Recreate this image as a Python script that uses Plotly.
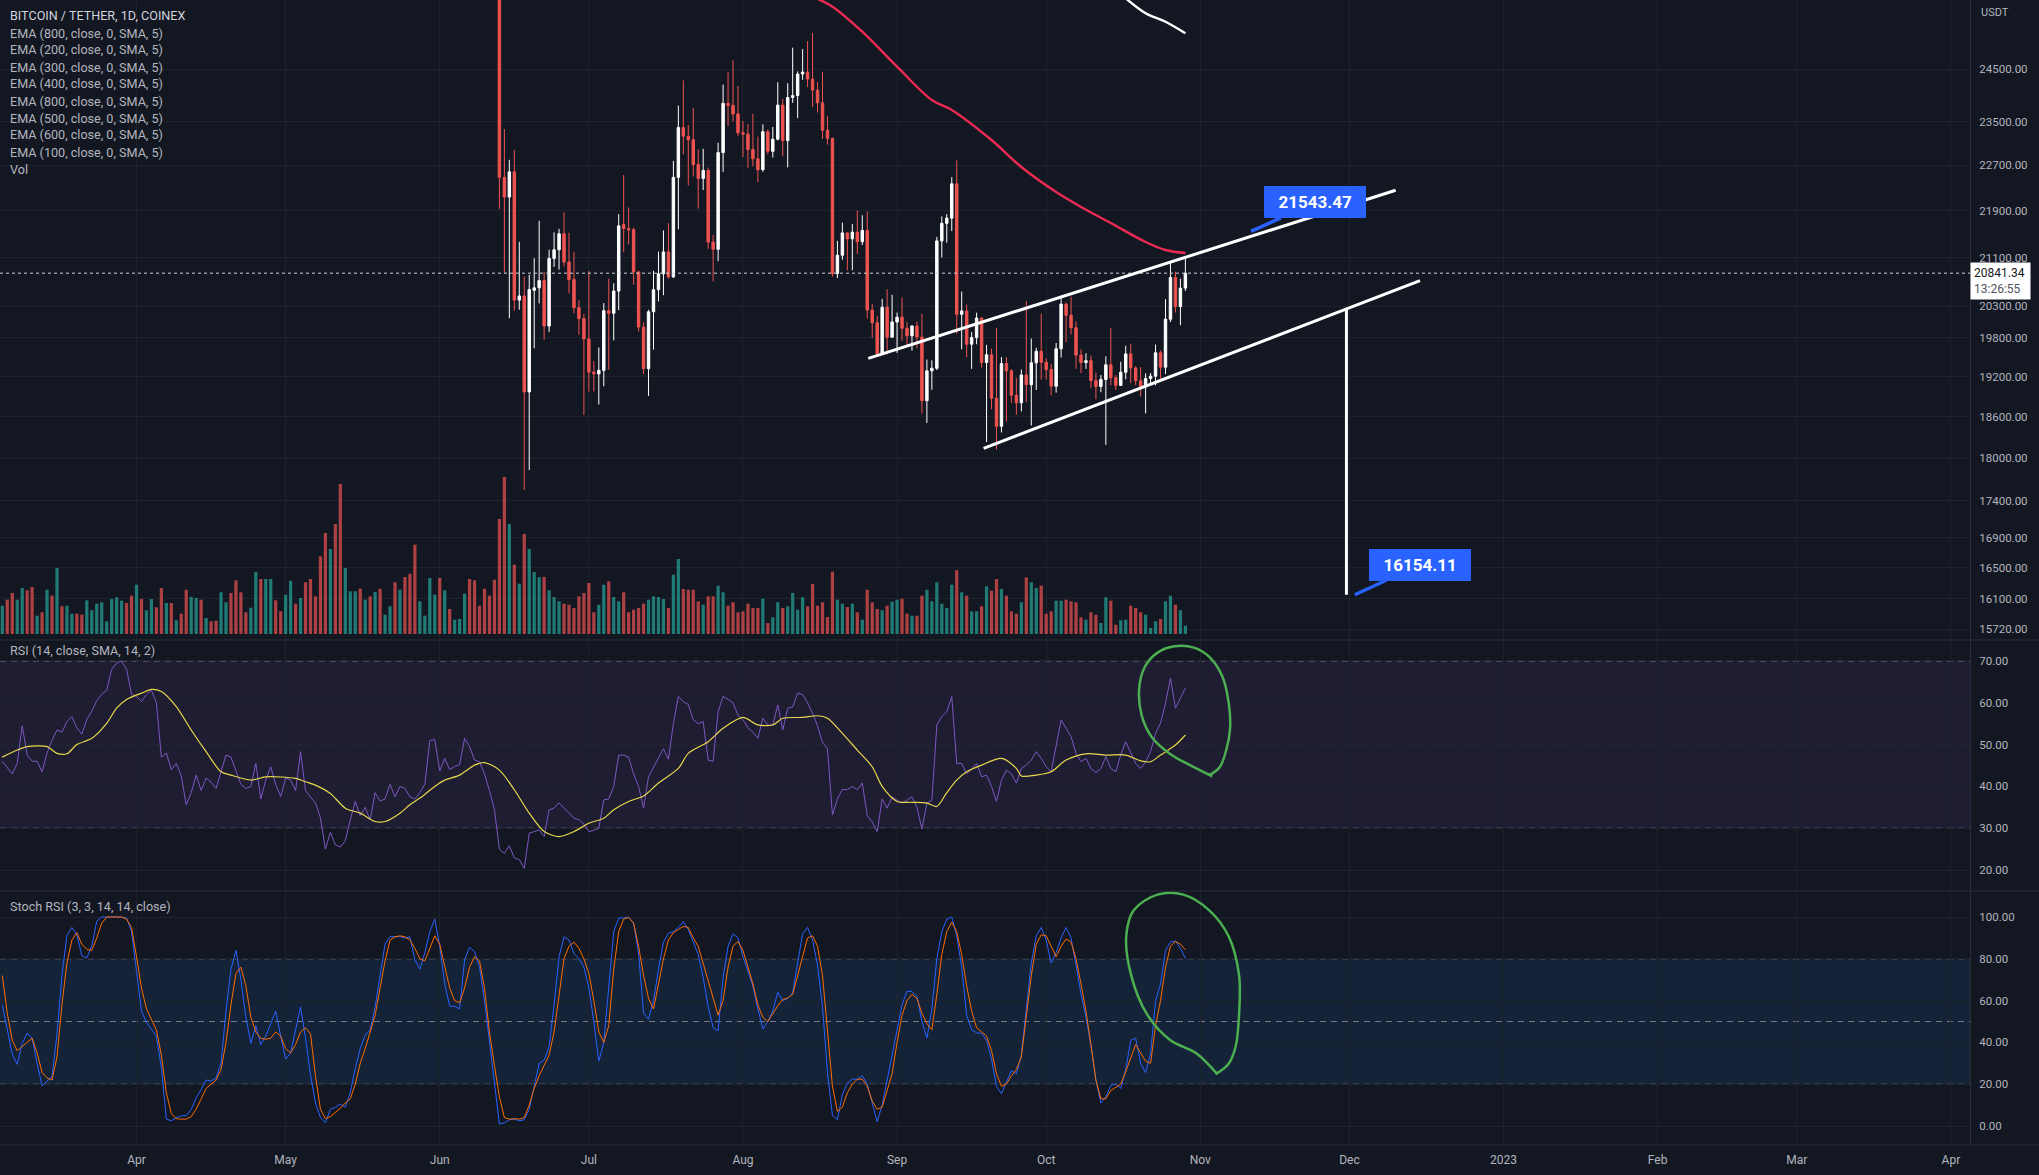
import numpy as np
import pandas as pd
import plotly.graph_objects as go

BG = "#131722"
GRID = "#1e222d"
TXT = "#b2b5be"
FONT = "Roboto"

# ---------------- data ----------------
base_date = "2022-03-05"          # first daily bar visible at left edge

rsi_vals = [
    46, 44.5, 43, 45.5, 54.5, 47.5, 46, 46, 43.5, 48,
    51, 53.5, 53, 55.5, 56.7, 54, 52.5, 56, 58, 60.5,
    62, 63, 68, 69.5, 70, 68, 62, 61.5, 60.3, 62,
    63, 60, 47, 48, 44, 45.5, 42.5, 35.6, 38.5, 42.7,
    39, 42, 41, 39.5, 43.5, 47.5, 47, 43.5, 40.5, 39.5,
    40, 45.5, 37, 41.5, 44.7, 40.5, 37.6, 42, 41.5, 39,
    48.3, 39, 37.5, 36, 32.5, 25, 29, 26, 25.5, 27,
    32, 36.4, 33, 35, 32, 38.5, 36.5, 37, 40.5, 37.5,
    40, 39.5, 37.5, 37, 38.5, 40.5, 51, 51.2, 43.7, 46.7,
    44, 44.8, 45.2, 51.5, 49.5, 46.3, 45.9, 43, 39, 34.5,
    25, 24, 25.8, 22.9, 22.5, 20.4, 28.8, 29.2, 29.6, 28,
    34.4, 34.8, 36.1, 34.8, 33.6, 32.4, 32, 31, 29.2, 29.5,
    30, 36.8, 37, 40, 47.5, 47.5, 47, 43, 40, 34.8,
    42.3, 44.5, 47, 49, 46.5, 55, 61.5, 60.3, 59.6, 56,
    55, 55.5, 46.3, 46, 57.9, 61.5, 60.8, 60, 57, 56,
    54, 53, 51.5, 56.3, 54.7, 54.7, 59.5, 53.5, 58.7, 59,
    62.3, 62, 60, 57.5, 54.5, 50.5, 49, 33.2, 37, 39.3,
    39.2, 40, 39.2, 40.8, 33, 31.5, 29.2, 37, 34.8, 37.5,
    36.7, 36, 36.7, 37.5, 35, 29.8, 36, 36.7, 54.7, 56.7,
    57.9, 61.5, 45.5, 45.5, 43, 44.3, 45.5, 42.3, 42.7, 40,
    36.4, 41.5, 43.9, 43, 40.8, 44.3, 45.1, 46.3, 48.3, 46.7,
    44.7, 43.5, 49.9, 55.9, 53.9, 51.9, 47.9, 45.9, 46.7, 44.3,
    43.3, 44.3, 47.1, 44.3, 43.5, 47.5, 50.7, 47.9, 45.5, 44.3,
    45.9, 48.3, 52.7, 55.1, 59.9, 65.9, 58.7, 61.1, 63.5,
]

rsi_ma_days = [0, 3, 5, 9, 11, 13, 15, 18, 21, 23, 25, 28, 30, 32, 35, 38, 41, 44, 46, 50,
               53, 59, 61, 63, 66, 69, 72, 75, 77, 80, 82, 84, 87, 89, 92, 95, 97, 100, 103, 106,
               109, 112, 115, 118, 121, 123, 126, 129, 132, 136, 138, 142, 145, 149, 152, 155, 157, 161, 164, 166,
               169, 172, 175, 177, 180, 183, 186, 188, 190, 192, 194, 197, 201, 204, 205, 208, 211, 214, 218, 222,
               226, 229, 231, 233, 236, 238]
rsi_ma_vals = [47.0, 48.7, 49.5, 49.5, 47.9, 47.8, 50.0, 51.5, 55.1, 58.7, 60.8, 62.3, 63.2, 62.7, 59.1, 53.5, 48.3, 43.5, 42.7, 41.5,
               42.3, 41.9, 41.1, 40.3, 38.3, 34.8, 33.6, 31.6, 31.6, 33.6, 35.6, 37.2, 40.0, 41.5, 42.7, 45.1, 45.7, 43.9, 39.2, 33.6,
               29.2, 28.0, 29.2, 31.2, 32.4, 34.4, 36.4, 37.7, 40.8, 44.3, 47.9, 50.7, 53.9, 56.5, 54.7, 54.7, 56.3, 56.5, 56.9, 56.3,
               52.7, 48.7, 44.7, 40.0, 36.4, 36.2, 36.0, 35.2, 38.5, 41.5, 43.5, 45.1, 46.7, 44.3, 42.5, 42.7, 43.5, 46.3, 47.8, 47.5,
               47.5, 46.1, 45.9, 47.5, 49.9, 52.3]

stoch_k = [
    58, 46, 34.5, 29.5, 39.5, 44.5, 42, 30, 19.2, 21.5,
    23.5, 44, 72, 91, 95, 91.5, 81.5, 80.5, 86, 98,
    100, 100, 100, 100, 100, 99.5, 93, 74, 55, 49.5,
    46, 43, 28, 3.3, 2.5, 4, 4.9, 4.9, 8, 13.5,
    17.5, 22, 21.5, 23, 30, 55, 75, 84, 70, 52,
    39.5, 48, 39, 43, 49, 55, 43, 32, 35, 46,
    57, 42, 24.5, 11, 4, 1.5, 8, 9, 10.5, 9,
    16, 27.5, 37, 43.5, 46, 57, 72, 87, 90.6, 90.6,
    90.6, 90, 90.5, 79.5, 75, 83, 93, 99, 86, 68,
    57.3, 57.3, 56, 79.5, 85.5, 83.5, 76, 60, 41, 21,
    1, 1.5, 3, 3.3, 2.5, 3, 8, 19, 30, 31.5,
    38, 58, 81, 90.5, 89, 82.5, 80, 76, 66, 50,
    31, 40, 68, 93, 99.5, 99.5, 100, 97, 82.7, 54,
    51, 60, 75, 88, 92.2, 93, 95, 97.8, 94, 88,
    82, 71, 57, 47, 45.5, 71, 86, 92, 90, 81,
    74, 67, 56, 46.5, 50, 55, 64, 60, 61, 63.7,
    78, 92, 95, 89, 77, 57, 25.6, 5, 3, 15,
    20.5, 22.4, 22.4, 24, 20, 11, 2, 10, 22, 34,
    46, 58, 64.4, 64.4, 62, 50, 42, 56, 80, 93,
    99, 100, 91, 76, 53, 46, 44.6, 44.3, 41, 32,
    19, 15.5, 21, 26.5, 25, 34, 56, 78, 91, 95,
    89, 78, 83, 90, 95, 90, 77, 63, 52, 38.5,
    22, 11, 14, 19.5, 20, 18, 27, 41, 42, 30,
    25.6, 35, 60, 68, 84, 88, 88.5, 85, 80.3,
]

stoch_d = [
    72, 54, 41, 36, 38, 40, 42, 35, 25.6, 23,
    22, 33, 58, 78, 89, 92.5, 87, 84.5, 84, 90,
    97, 100, 100, 100, 100, 99, 95, 81, 66, 56,
    51, 46, 34, 16, 6, 3.5, 3.3, 3.3, 4.5, 8,
    13, 18, 20, 22, 27, 40, 58, 73, 76, 67,
    52, 45, 42, 41.5, 42, 45, 43, 37, 35, 39,
    45, 47, 44, 24, 8, 3.5, 4.5, 6.5, 8.5, 11,
    13, 20, 30, 37, 45, 53, 66, 79, 89, 90.5,
    91, 90.5, 89, 85, 80, 79, 85, 91, 87, 77,
    66, 60, 59, 66, 76, 81, 79, 66, 45, 29,
    14, 4, 3.3, 3.5, 3.3, 4, 10, 18, 24, 29,
    34, 45, 63, 80, 86, 88, 85, 80, 73, 60,
    45, 40, 48, 75, 93, 99, 99.8, 97, 86, 72,
    61, 56, 68, 80, 89, 92.5, 94, 95.5, 95, 90,
    86, 78, 69, 62, 53, 60, 76, 86, 88.3, 84,
    76, 68, 58, 52, 50, 54, 57.5, 60.5, 61.3, 63,
    72, 82, 90, 91, 86, 72, 44.6, 19, 7, 9,
    16, 20, 22.4, 22.4, 19, 12, 8, 9, 17, 25,
    40, 53, 60, 63, 61, 54, 49, 46, 63, 82,
    93, 97.5, 93, 82, 67, 55, 47, 45, 43, 36,
    25, 19, 20, 24, 27, 33, 52, 72, 87, 91.5,
    91, 86, 81, 86, 89.5, 88, 80, 68, 55, 39,
    22, 13, 13, 17, 18.5, 20, 26, 33, 39, 35,
    31, 30, 48, 60, 76, 86, 88.3, 87, 84.3,
]

volume = [
    28.3, 34.3, 41, 34.3, 46, 43.7, 47, 18.3, 21.7, 44.3,
    38.3, 66, 27.7, 28.3, 20.3, 20.3, 19.3, 33.7, 23.7, 30.3,
    31.7, 12.7, 35, 36.7, 33.3, 31, 38.3, 49.3, 35, 23.7,
    35, 26.7, 46, 31, 31, 13.7, 20.3, 44.3, 37, 36,
    34.3, 16, 12.7, 13.3, 41.7, 31.7, 41, 53.7, 41.7, 21.7,
    26.3, 62, 55, 55, 55, 33.7, 22.7, 39.3, 53.3, 30.3,
    36, 51.7, 55, 37.7, 77.7, 101, 85, 110, 150, 66,
    42.7, 42.7, 45.3, 34.3, 37.7, 42, 45.3, 19.3, 27.7, 51.7,
    44.3, 57, 60.3, 89.3, 32.7, 18.3, 56, 39.3, 56, 43.7,
    25, 14.3, 15, 40.3, 55, 53.7, 28.3, 45.3, 38.3, 54.3,
    115, 157, 110, 69.3, 50.3, 100, 85, 62, 56.7, 57,
    43.7, 37, 32.7, 30.3, 29.3, 26, 37.7, 41, 51, 21.7,
    29.3, 49.3, 52.7, 37, 32.7, 41.7, 21.7, 24.3, 26, 30.3,
    34.3, 37.7, 37, 35, 26, 59.3, 75, 45, 44.3, 44.3,
    32.7, 29.3, 37.7, 37.7, 48.3, 41.7, 28.3, 31.7, 21.7, 22.7,
    30.3, 26, 26, 35.3, 11, 16.7, 31.7, 26, 27.7, 41,
    24.3, 36.7, 27.7, 50, 28.3, 31.7, 17, 62.3, 34.3, 30.3,
    27, 30.3, 21.7, 14.3, 44.3, 31.7, 25, 23.7, 28.3, 32.3,
    34.3, 35.3, 20.3, 18.3, 18.3, 38.3, 44.3, 32.7, 51.7, 30.3,
    26, 49.3, 63.7, 41.7, 38.3, 22.7, 22.7, 27.7, 47.7, 43.3,
    55, 45, 38.3, 22.7, 20.3, 31.7, 56.7, 51.7, 46, 48.3,
    20.3, 22.7, 33.3, 33.3, 34.3, 32.7, 31.7, 16.7, 14.3, 21.7,
    19.3, 11, 36.7, 33.3, 9.3, 13.7, 14.3, 28.3, 26, 21.7,
    19.3, 6, 12.7, 15, 32.7, 38.3, 29.3, 23.7, 8.3,
]

# direction of volume bars before the first visible candle (1 = up / teal)
vol_up_early = [
    1, 0, 0, 1, 1, 0, 0, 1, 0, 1,
    0, 1, 0, 1, 1, 0, 0, 1, 1, 1,
    1, 1, 1, 1, 1, 0, 0, 1, 0, 1,
    1, 0, 0, 1, 0, 1, 0, 0, 1, 1,
    0, 1, 0, 0, 1, 1, 0, 0, 0, 0,
    1, 1, 0, 1, 1, 0, 0, 1, 1, 0,
    1, 0, 0, 0, 0, 0, 1, 0, 0, 1,
    1, 1, 0, 1, 0, 1, 0, 1, 1, 0,
    1, 0, 0, 0, 1, 1, 1, 1, 0, 1,
    0, 1, 1, 1, 0, 0, 0, 0, 0, 0,
]

candle_start = "2022-06-13"
ohlc = [
    (26580, 26900, 21930, 22487), (22486, 23363, 20846, 22136), (22136, 22800, 20111, 22583),
    (22583, 22980, 20232, 20401), (20401, 21365, 20246, 20468), (20468, 20785, 17550, 18970),
    (18970, 20815, 17830, 20574), (20560, 21090, 19637, 20600), (20600, 21723, 20348, 20719),
    (20719, 20866, 19770, 19987), (19987, 21233, 19890, 21085), (21085, 21525, 20946, 21231),
    (21231, 21588, 20900, 21502), (21502, 21868, 20950, 21027), (21027, 21520, 20510, 20735),
    (20735, 21200, 20190, 20280), (20280, 20400, 19850, 20104), (20104, 20179, 18626, 19784),
    (19784, 20876, 18975, 19269), (19269, 19438, 18977, 19242), (19242, 19650, 18781, 19297),
    (19297, 20354, 19055, 20231), (20231, 20750, 19304, 20190), (20190, 20675, 19761, 20548),
    (20548, 21838, 20240, 21637), (21660, 22527, 21189, 21590), (21590, 21954, 21320, 21570),
    (21570, 21608, 20650, 20861), (20861, 20884, 19900, 19970), (19970, 20046, 19240, 19323),
    (19323, 20245, 18910, 20213), (20213, 20880, 19617, 20570), (20570, 21200, 20380, 20830),
    (20830, 21560, 20480, 21195), (21195, 21683, 20750, 20780), (20780, 22780, 20760, 22485),
    (22485, 23800, 21580, 23389), (23389, 24280, 22900, 23231), (23231, 23440, 22340, 23164),
    (23164, 23756, 22500, 22714), (22714, 22990, 21934, 22465), (22465, 23000, 22260, 22609),
    (22609, 22660, 21250, 21361), (21361, 21480, 20706, 21239), (21239, 23109, 21040, 22930),
    (22930, 24199, 22582, 23843), (23843, 24442, 23414, 23804), (23804, 24668, 23500, 23643),
    (23643, 24173, 23227, 23293), (23293, 23509, 22850, 23268), (23268, 23455, 22654, 22987),
    (22987, 23647, 22681, 22818), (22818, 23223, 22400, 22622), (22622, 23450, 22586, 23312),
    (23312, 23354, 22901, 22954), (22954, 23400, 22841, 23175), (23175, 24245, 23154, 23810),
    (23810, 23925, 22865, 23149), (23149, 24226, 22664, 23954), (23954, 24918, 23852, 23990),
    (23990, 24454, 23565, 24403), (24403, 24890, 24291, 24441), (24441, 25047, 24150, 24305),
    (24305, 25211, 23773, 24094), (24094, 24247, 23671, 23854), (23854, 24446, 23180, 23342),
    (23342, 23600, 23077, 23191), (23191, 23200, 20783, 20834), (20834, 21382, 20761, 21140),
    (21140, 21692, 21064, 21517), (21517, 21522, 20890, 21416), (21416, 21668, 20890, 21529),
    (21529, 21900, 21163, 21368), (21368, 21819, 21310, 21560), (21560, 21886, 20107, 20241),
    (20241, 20340, 19800, 20037), (20037, 20150, 19530, 19555), (19555, 20420, 19550, 20285),
    (20285, 20577, 19540, 19811), (19811, 20488, 19800, 20050), (20050, 20200, 19565, 20127),
    (20127, 20445, 19753, 19952), (19952, 20052, 19655, 19832), (19832, 20000, 19600, 19986),
    (19986, 20059, 19635, 19812), (19812, 20180, 18650, 18838), (18838, 19463, 18510, 19290),
    (19290, 19450, 19000, 19329), (19329, 21450, 19300, 21381), (21381, 21800, 21100, 21680),
    (21680, 21840, 21350, 21770), (21770, 22488, 21550, 22370), (22370, 22790, 19860, 20173),
    (20173, 20540, 19620, 20227), (20227, 20330, 19500, 19701), (19701, 19890, 19320, 19804),
    (19804, 20200, 19700, 20114), (20114, 20118, 19336, 19416), (19416, 19690, 18232, 19537),
    (19537, 19634, 18710, 18875), (18875, 19956, 18125, 18461), (18461, 19500, 18370, 19401),
    (19401, 19500, 18530, 19289), (19289, 19316, 18805, 18920), (18920, 19180, 18630, 18807),
    (18807, 19310, 18680, 19227), (19227, 20385, 18817, 19079), (19079, 19790, 18471, 19412),
    (19412, 19645, 19000, 19591), (19591, 20185, 19155, 19422), (19422, 19484, 19160, 19310),
    (19310, 19395, 18920, 19056), (19056, 19720, 18959, 19629), (19629, 20475, 19493, 20337),
    (20337, 20365, 19730, 20158), (20158, 20456, 19854, 19960), (19960, 20061, 19320, 19531),
    (19531, 19620, 19255, 19417), (19417, 19560, 19320, 19446), (19446, 19525, 19026, 19141),
    (19141, 19263, 18860, 19051), (19051, 19225, 18965, 19157), (19157, 19514, 18190, 19382),
    (19382, 19951, 19070, 19185), (19185, 19227, 19000, 19067), (19067, 19428, 19064, 19268),
    (19268, 19676, 19160, 19550), (19550, 19706, 19100, 19334), (19334, 19360, 19070, 19139),
    (19139, 19346, 18900, 19053), (19053, 19250, 18650, 19172), (19172, 19257, 19100, 19208),
    (19208, 19695, 19068, 19567), (19567, 19601, 19157, 19345), (19345, 20415, 19240, 20095),
    (20095, 21020, 20050, 20771), (20771, 20865, 20200, 20296), (20296, 20750, 20000, 20596),
    (20596, 21085, 20550, 20841.34),
]
opens = [r[0] for r in ohlc]
highs = [r[1] for r in ohlc]
lows = [r[2] for r in ohlc]
closes = [r[3] for r in ohlc]
last_price = 20841.34

# moving-average curves (day offset from base_date, price)
ema_red_days = [164, 167, 173, 180, 187, 191, 199, 205, 212, 217, 223, 230, 234, 238]
ema_red_vals = [25900, 25740, 25235, 24545, 23905, 23719, 23160, 22670, 22224, 21963, 21686, 21362, 21227, 21176]
ema_white_days = [225, 230, 234, 238]
ema_white_vals = [26000, 25606, 25435, 25203]

# drawings (day offset, price)
upper_line_days = [174.2, 280.3]
upper_line_vals = [19480, 22256]
lower_line_days = [197.4, 285.2]
lower_line_vals = [18140, 20717]
target_line_days = [270.4, 270.4]
target_line_vals = [20270, 16154.11]
callouts = [(251.2, 21543.47), (272.1, 16154.11)]

rsi_circle_days = [243.4, 239.7, 235.0, 231.3, 229.2, 228.7, 229.8, 232.4, 235.8, 239.7, 242.8, 245.4, 246.7, 247.0, 246.2, 244.9, 242.8]
rsi_circle_vals = [42.4, 44.6, 47.7, 51.7, 57.0, 63.3, 68.5, 72.0, 73.5, 73.2, 71.0, 66.4, 60.1, 53.9, 48.6, 44.6, 42.7]
stoch_circle_days = [244.4, 240.2, 235.0, 230.3, 227.1, 226.1, 227.6, 232.4, 237.6, 242.8, 246.7, 248.8, 248.8, 248.1, 246.7, 244.1]
stoch_circle_vals = [24.8, 34.8, 41.0, 53.4, 72.1, 90.8, 103.2, 110.7, 110.7, 103.2, 90.8, 72.1, 53.4, 37.9, 29.8, 24.8]

price_ticks = [15720, 16100, 16500, 16900, 17400, 18000, 18600, 19200, 19800, 20300, 21100, 21900, 22700, 23500, 24500]
rsi_ticks = [20, 30, 40, 50, 60, 70]
stoch_ticks = [0, 20, 40, 60, 80, 100]
month_ticks = ["2022-04-01", "2022-05-01", "2022-06-01", "2022-07-01", "2022-08-01", "2022-09-01", "2022-10-01",
               "2022-11-01", "2022-12-01", "2023-01-01", "2023-02-01", "2023-03-01", "2023-04-01"]
month_labels = ["Apr", "May", "Jun", "Jul", "Aug", "Sep", "Oct", "Nov", "Dec", "2023", "Feb", "Mar", "Apr"]

legend_rows = ["BITCOIN / TETHER, 1D, COINEX", "EMA (800, close, 0, SMA, 5)", "EMA (200, close, 0, SMA, 5)",
               "EMA (300, close, 0, SMA, 5)", "EMA (400, close, 0, SMA, 5)", "EMA (800, close, 0, SMA, 5)",
               "EMA (500, close, 0, SMA, 5)", "EMA (600, close, 0, SMA, 5)", "EMA (100, close, 0, SMA, 5)", "Vol"]

# ---------------- helpers ----------------
base = pd.Timestamp(base_date)


def day(d):
    return base + pd.to_timedelta(d, unit="D")


def days_to_dates(ds):
    return [day(d) for d in ds]


dates = pd.date_range(base_date, periods=len(rsi_vals), freq="D")
cdates = pd.date_range(candle_start, periods=len(ohlc), freq="D")
offset = (pd.Timestamp(candle_start) - base).days

vol_colors = []
for i in range(len(volume)):
    if i < offset:
        up = vol_up_early[i] == 1
    else:
        up = closes[i - offset] >= opens[i - offset]
    vol_colors.append("rgba(38,166,154,0.7)" if up else "rgba(239,83,80,0.7)")

# layout geometry
PLOT_H = 1145.0
W_PLOT = 1970.0
dom_price = [1 - 640 / PLOT_H, 1.0]
dom_rsi = [1 - 891 / PLOT_H, 1 - 640 / PLOT_H]
dom_stoch = [0.0, 1 - 891 / PLOT_H]
x_range = [day(-0.463), day(395.84)]

fig = go.Figure()

# volume (overlay axis in price pane)
fig.add_trace(go.Bar(x=dates, y=volume, marker=dict(color=vol_colors, line=dict(width=0)),
                     xaxis="x", yaxis="y4", hoverinfo="skip"))

# candles
fig.add_trace(go.Candlestick(
    x=cdates, open=opens, high=highs, low=lows, close=closes,
    increasing=dict(line=dict(color="#ffffff", width=1), fillcolor="#ffffff"),
    decreasing=dict(line=dict(color="#ef5350", width=1), fillcolor="#ef5350"),
    whiskerwidth=0, xaxis="x", yaxis="y"))

# EMA curves
fig.add_trace(go.Scatter(x=days_to_dates(ema_red_days), y=ema_red_vals, mode="lines",
                         line=dict(color="#ec2a52", width=2.4, shape="spline"), xaxis="x", yaxis="y"))
fig.add_trace(go.Scatter(x=days_to_dates(ema_white_days), y=ema_white_vals, mode="lines",
                         line=dict(color="#ffffff", width=2.4, shape="spline"), xaxis="x", yaxis="y"))

# last price dotted line
fig.add_trace(go.Scatter(x=x_range, y=[last_price, last_price], mode="lines",
                         line=dict(color="#d1d4dc", width=1, dash="dot"), xaxis="x", yaxis="y"))

# drawings: channel + target
for dd, vv in [(upper_line_days, upper_line_vals), (lower_line_days, lower_line_vals),
               (target_line_days, target_line_vals)]:
    fig.add_trace(go.Scatter(x=days_to_dates(dd), y=vv, mode="lines",
                             line=dict(color="#ffffff", width=3), xaxis="x", yaxis="y"))

# RSI pane
fig.add_trace(go.Scatter(x=dates, y=rsi_vals, mode="lines", line=dict(color="#7e57c2", width=1),
                         xaxis="x2", yaxis="y2"))
fig.add_trace(go.Scatter(x=days_to_dates(rsi_ma_days), y=rsi_ma_vals, mode="lines",
                         line=dict(color="#e8d84c", width=1.2, shape="spline", smoothing=0.8),
                         xaxis="x2", yaxis="y2"))
fig.add_trace(go.Scatter(x=days_to_dates(rsi_circle_days), y=rsi_circle_vals, mode="lines",
                         line=dict(color="#4caf50", width=2.5, shape="spline"), xaxis="x2", yaxis="y2"))

# Stoch pane
fig.add_trace(go.Scatter(x=dates, y=stoch_k, mode="lines", line=dict(color="#2962ff", width=1),
                         xaxis="x3", yaxis="y3"))
fig.add_trace(go.Scatter(x=dates, y=stoch_d, mode="lines", line=dict(color="#ff6d00", width=1),
                         xaxis="x3", yaxis="y3"))
fig.add_trace(go.Scatter(x=days_to_dates(stoch_circle_days), y=stoch_circle_vals, mode="lines",
                         line=dict(color="#4caf50", width=2.5, shape="spline"), xaxis="x3", yaxis="y3"))

# ---------------- layout ----------------
tickfont = dict(family=FONT, size=11.5, color=TXT)


def xax(anchor, show):
    d = dict(domain=[0, 1], anchor=anchor, type="date", range=x_range, tickvals=month_ticks,
             ticktext=month_labels, showticklabels=show, showgrid=True, gridcolor=GRID, gridwidth=1,
             zeroline=False, showline=False, ticks="", tickfont=dict(family=FONT, size=12, color=TXT),
             rangeslider=dict(visible=False), fixedrange=True)
    if anchor != "y":
        d["matches"] = "x"
    return d


def yax(dom, rng, tv, tt, **kw):
    d = dict(domain=dom, range=rng, side="right", tickvals=tv, ticktext=tt, showgrid=True,
             gridcolor=GRID, gridwidth=1, zeroline=False, showline=True, linecolor="#2a2e39",
             linewidth=1, ticks="outside", ticklen=6, tickcolor="rgba(0,0,0,0)", tickfont=tickfont,
             fixedrange=True)
    d.update(kw)
    return d


shapes = []
# RSI band and levels
shapes.append(dict(type="rect", xref="paper", x0=0, x1=1, yref="y2", y0=30, y1=70,
                   fillcolor="rgba(126,87,194,0.1)", line=dict(width=0), layer="below"))
for lv in [70, 50, 30]:
    shapes.append(dict(type="line", xref="paper", x0=0, x1=1, yref="y2", y0=lv, y1=lv,
                       line=dict(color="#787b86", width=1, dash="6px,5px"), layer="below"))
# Stoch band and levels
shapes.append(dict(type="rect", xref="paper", x0=0, x1=1, yref="y3", y0=20, y1=80,
                   fillcolor="rgba(33,150,243,0.1)", line=dict(width=0), layer="below"))
for lv in [80, 50, 20]:
    shapes.append(dict(type="line", xref="paper", x0=0, x1=1, yref="y3", y0=lv, y1=lv,
                       line=dict(color="#787b86", width=1, dash="6px,5px"), layer="below"))
# pane separators
x_full = 2039 / W_PLOT
for yp in [dom_rsi[1], dom_stoch[1], 0.0]:
    shapes.append(dict(type="line", xref="paper", x0=0, x1=x_full, yref="paper", y0=yp, y1=yp,
                       line=dict(color="#2a2e39", width=1)))

annotations = []
for i, txt in enumerate(legend_rows):
    annotations.append(dict(xref="paper", yref="paper", x=8 / W_PLOT, y=1 - (16 + 17 * i) / PLOT_H,
                            xanchor="left", yanchor="middle", text=txt, showarrow=False,
                            font=dict(family=FONT, size=12.6, color="#d1d4dc" if i == 0 else TXT)))
annotations.append(dict(xref="paper", yref="paper", x=8 / W_PLOT, y=1 - 650 / PLOT_H, xanchor="left",
                        yanchor="middle", text="RSI (14, close, SMA, 14, 2)", showarrow=False,
                        font=dict(family=FONT, size=12.6, color=TXT)))
annotations.append(dict(xref="paper", yref="paper", x=8 / W_PLOT, y=1 - 906 / PLOT_H, xanchor="left",
                        yanchor="middle", text="Stoch RSI (3, 3, 14, 14, close)", showarrow=False,
                        font=dict(family=FONT, size=12.6, color=TXT)))
annotations.append(dict(xref="paper", yref="paper", x=1 + 9 / W_PLOT, y=1 - 12 / PLOT_H, xanchor="left",
                        yanchor="middle", text="USDT", showarrow=False,
                        font=dict(family=FONT, size=11, color=TXT)))
# last price tag
annotations.append(dict(xref="paper", yref="y", x=1, y=np.log10(last_price), xanchor="left",
                        yanchor="middle", yshift=-8, align="left",
                        text=f"{last_price:.2f}&nbsp;<br><span style='color:#50535e'>13:26:55</span>",
                        showarrow=False, bgcolor="#ffffff", borderpad=3,
                        font=dict(family=FONT, size=12, color="#131722")))
# callouts
for (d, v), (ax_, ay_) in zip(callouts, [(64, -29), (65, -30)]):
    annotations.append(dict(xref="x", yref="y", x=day(d), y=np.log10(v), ax=ax_, ay=ay_,
                            text=f"<b>&nbsp;&nbsp;{v:.2f}&nbsp;&nbsp;</b>", showarrow=True, arrowhead=0,
                            arrowwidth=3.5, arrowcolor="#2962ff", standoff=0, bgcolor="#2962ff",
                            bordercolor="#2962ff", borderpad=5,
                            font=dict(family=FONT, size=17, color="#ffffff")))

fig.update_layout(
    width=2039, height=1175, paper_bgcolor=BG, plot_bgcolor=BG, showlegend=False,
    margin=dict(l=0, r=69, t=0, b=30), bargap=0.35, hovermode=False,
    xaxis=xax("y", False), xaxis2=xax("y2", False), xaxis3=xax("y3", True),
    yaxis=yax(dom_price, [np.log10(15585), np.log10(25877)], price_ticks,
              [f"{v:.2f}" for v in price_ticks], type="log"),
    yaxis2=yax(dom_rsi, [14.98, 75.02], rsi_ticks, [f"{v:.2f}" for v in rsi_ticks]),
    yaxis3=yax(dom_stoch, [-9.09, 112.44], stoch_ticks, [f"{v:.2f}" for v in stoch_ticks]),
    yaxis4=dict(domain=dom_price, overlaying="y", range=[-6, 634], visible=False, fixedrange=True),
    shapes=shapes, annotations=annotations,
)
fig.update_xaxes(ticklabelstandoff=6, selector=dict(anchor="y3"))

fig.write_html("out.html", config={"displayModeBar": False},
               post_script="document.body.style.margin='0';document.body.style.background='#131722';")
